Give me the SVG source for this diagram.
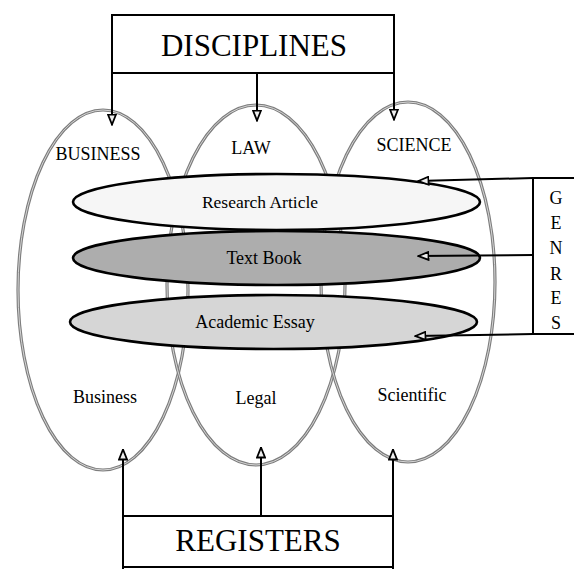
<svg xmlns="http://www.w3.org/2000/svg" width="574" height="569" viewBox="0 0 574 569">
<defs>
<style>
.big{fill:none;stroke:#7d7d7d;stroke-width:3.2}
.bigin{fill:none;stroke:#d6d6d6;stroke-width:1}
.genre{stroke:#000;stroke-width:2.6}
.line{fill:none;stroke:#000;stroke-width:2}
.box{fill:#fff;stroke:#000;stroke-width:2}
.t{font-family:"Liberation Serif","Times New Roman",serif;fill:#000;text-anchor:middle}
</style>
<marker id="ah" viewBox="0 0 12 10" refX="11.5" refY="5" markerWidth="12" markerHeight="10" markerUnits="userSpaceOnUse" orient="auto">
<path d="M1,1 L11,5 L1,9 z" fill="#eee" stroke="#000" stroke-width="1.8"/>
</marker>
</defs>
<rect width="574" height="569" fill="#fff"/>

<g id="business">
<ellipse class="big" cx="103" cy="290" rx="85" ry="180"/>
<ellipse class="bigin" cx="103" cy="290" rx="85" ry="180"/>
<text class="t" x="98" y="160" font-size="18">BUSINESS</text>
<text class="t" x="105" y="403" font-size="18">Business</text>
</g>
<g id="law">
<ellipse class="big" cx="256" cy="285" rx="89" ry="180"/>
<ellipse class="bigin" cx="256" cy="285" rx="89" ry="180"/>
<text class="t" x="251" y="154" font-size="18">LAW</text>
<text class="t" x="256" y="404" font-size="18">Legal</text>
</g>
<g id="science">
<ellipse class="big" cx="408" cy="282" rx="87" ry="180"/>
<ellipse class="bigin" cx="408" cy="282" rx="87" ry="180"/>
<text class="t" x="414" y="151" font-size="18">SCIENCE</text>
<text class="t" x="412" y="401" font-size="18">Scientific</text>
</g>

<g id="research-article">
<ellipse class="genre" cx="276.5" cy="202" rx="203.5" ry="28" fill="#f6f6f6"/>
<text class="t" x="260" y="208" font-size="17.5">Research Article</text>
</g>
<g id="text-book">
<ellipse class="genre" cx="276.5" cy="258" rx="203.5" ry="27" fill="#adadad"/>
<text class="t" x="264" y="264" font-size="18">Text Book</text>
</g>
<g id="academic-essay">
<ellipse class="genre" cx="273.5" cy="322" rx="203.5" ry="27" fill="#d6d6d6"/>
<text class="t" x="255" y="328" font-size="18">Academic Essay</text>
</g>

<g id="disciplines">
<rect class="box" x="112" y="15" width="282" height="58"/>
<text class="t" x="254" y="56" font-size="31">DISCIPLINES</text>
</g>
<g id="registers">
<rect class="box" x="123" y="516" width="270" height="51"/>
<text class="t" x="258" y="551" font-size="31">REGISTERS</text>
</g>
<g id="genres">
<text class="t" x="556" y="204" font-size="18">G</text>
<text class="t" x="556" y="229" font-size="18">E</text>
<text class="t" x="556" y="254" font-size="18">N</text>
<text class="t" x="556" y="280" font-size="18">R</text>
<text class="t" x="556" y="304" font-size="18">E</text>
<text class="t" x="556" y="329" font-size="18">S</text>
</g>

<g id="connectors">
<line class="line" x1="112" y1="73" x2="112" y2="125" marker-end="url(#ah)"/>
<line class="line" x1="257" y1="73" x2="257" y2="121" marker-end="url(#ah)"/>
<line class="line" x1="394" y1="73" x2="394" y2="120" marker-end="url(#ah)"/>
<line class="line" x1="123" y1="569" x2="123" y2="449" marker-end="url(#ah)"/>
<line class="line" x1="261" y1="516" x2="261" y2="447" marker-end="url(#ah)"/>
<line class="line" x1="393" y1="569" x2="393" y2="449" marker-end="url(#ah)"/>
<line class="line" x1="533" y1="178" x2="533" y2="334"/>
<polyline class="line" points="574,178 533,178 418,181" marker-end="url(#ah)"/>
<line class="line" x1="533" y1="255" x2="418" y2="256" marker-end="url(#ah)"/>
<polyline class="line" points="574,334 533,334 415,336" marker-end="url(#ah)"/>
</g>
</svg>
